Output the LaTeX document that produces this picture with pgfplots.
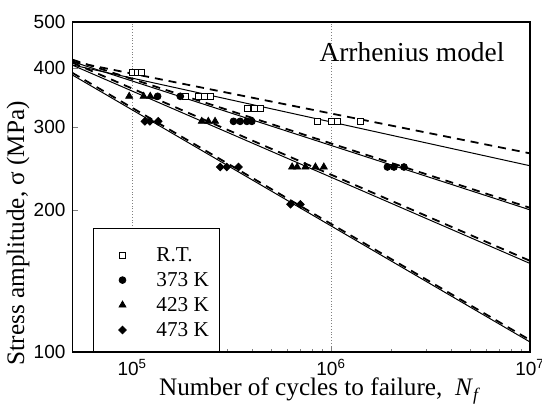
\documentclass[border=0pt]{standalone}
\usepackage{fontspec}
\setmainfont{Liberation Serif}
\newfontfamily\sansfont{Liberation Sans}
\usepackage{pgfplots}
\pgfplotsset{compat=1.18}
\begin{document}
\begin{tikzpicture}
\begin{axis}[name=ax, scale only axis, width=228.75pt, height=165pt,
  xmode=log, ymode=log, xmin=5e4, xmax=1e7, ymin=100, ymax=500,
  xtick={1e5,1e6,1e7},
  xticklabels={10\textsuperscript{5},10\textsuperscript{6},10\textsuperscript{7}},
  ytick={100,200,300,400,500}, yticklabels={100,200,300,400,500},
  yminorticks=false,
  xtick pos=left, ytick pos=left,
  major tick length=3pt, minor tick length=1.5pt,
  tick label style={font=\sansfont\fontsize{9.5}{11}\selectfont},
  /pgf/number format/assume math mode=true,
  xmajorgrids=true,
  major grid style={gray, densely dotted, line width=0.4pt},
  axis line style={line width=0.6pt},
  xlabel={Number of cycles to failure,\ \ \textit{N}\textsubscript{\textit{f}}},
  ylabel={Stress amplitude, σ (MPa)},
  xlabel style={at={(axis description cs:0.541,-0.133)}, anchor=base, font=\fontsize{12.6}{14}\selectfont},
  ylabel style={at={(axis description cs:-0.106,0.36)}, anchor=base, font=\fontsize{12.6}{14}\selectfont},
  legend cell align=left,
  legend style={at={(0.045,0)}, anchor=south west, draw=black, fill=white,
    inner xsep=3pt, inner ysep=5.8pt, font=\fontsize{10.6}{13}\selectfont,
    nodes={inner xsep=2pt, inner ysep=1pt, text height=10pt, text depth=0.5pt}},
  legend image code/.code={\path[draw=none,fill=none] (-11.5pt,0pt) -- (15pt,0pt); \draw[#1] plot coordinates {(0pt,-1.3pt)};},
]
% fitted lines (solid)
\addplot[black, line width=0.5pt, forget plot] coordinates {(5e4,405.4) (1e7,248)};
\addplot[black, line width=0.5pt, forget plot] coordinates {(5e4,412) (1e7,200)};
\addplot[black, line width=0.5pt, forget plot] coordinates {(5e4,405) (1e7,154)};
\addplot[black, line width=0.5pt, forget plot] coordinates {(5e4,386) (1e7,105)};
% Arrhenius model lines (dashed)
\addplot[black, line width=0.9pt, dash pattern=on 4pt off 3pt, forget plot] coordinates {(5e4,412) (1e7,263.5)};
\addplot[black, line width=0.9pt, dash pattern=on 4pt off 3pt, forget plot] coordinates {(5e4,416) (1e7,202)};
\addplot[black, line width=0.9pt, dash pattern=on 4pt off 3pt, forget plot] coordinates {(5e4,410) (1e7,156)};
\addplot[black, line width=0.9pt, dash pattern=on 4pt off 3pt, forget plot] coordinates {(5e4,390) (1e7,106)};
% data
\addplot[only marks, mark=square*, mark size=1.5pt, mark options={fill=white, draw=black, line width=0.5pt}] coordinates {
(1.002e5,390) (1.062e5,390) (1.117e5,390)
(1.85e5,348) (2.15e5,348) (2.30e5,348) (2.47e5,348)
(3.785e5,328) (4.10e5,328) (4.43e5,328)
(8.55e5,308) (9.98e5,308) (1.072e6,308) (1.406e6,308)};
\addlegendentry{R.T.}
\addplot[only marks, mark=*, mark size=1.7pt, mark options={fill=black, draw=black}] coordinates {
(1.34e5,348) (1.742e5,348)
(3.226e5,308) (3.485e5,308) (3.767e5,308) (3.99e5,308)
(1.917e6,246.5) (2.07e6,246.5) (2.323e6,246.5)};
\addlegendentry{373 K}
\addplot[only marks, mark=triangle*, mark size=2pt, mark options={fill=black, draw=black}] coordinates {
(9.64e4,348) (1.139e5,348) (1.23e5,348)
(2.234e5,308) (2.41e5,308) (2.606e5,308)
(6.36e5,246.5) (6.74e5,246.5) (7.42e5,246.5) (8.33e5,246.5) (9.18e5,246.5)};
\addlegendentry{423 K}
\addplot[only marks, mark=square*, mark size=1.35pt, mark options={fill=black, draw=black, rotate=45}] coordinates {
(1.156e5,308) (1.225e5,308) (1.349e5,308)
(2.764e5,246.5) (2.986e5,246.5) (3.42e5,246.5)
(6.24e5,205.5) (7.0e5,205.5)};
\addlegendentry{473 K}
\node[anchor=east, inner sep=0pt, font=\fontsize{13.7}{16}\selectfont] at (axis description cs:0.945,0.9076) {Arrhenius model};
\end{axis}
\pgfresetboundingbox
\path ([shift={(-36.25pt,-28pt)}]ax.south west) rectangle ([shift={(6pt,11pt)}]ax.north east);
\end{tikzpicture}
\end{document}
